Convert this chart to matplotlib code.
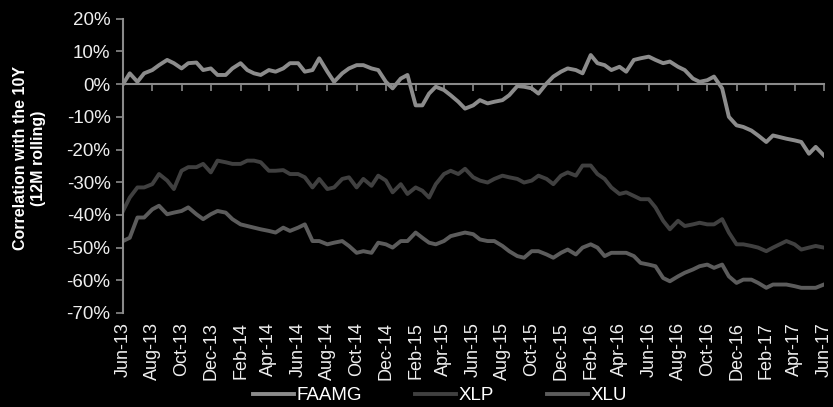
import pandas as pd
import matplotlib
matplotlib.use("Agg")
import matplotlib.pyplot as plt
from matplotlib.ticker import FuncFormatter

# half-monthly observations, Jun-13 .. Jun-17
dates = pd.date_range("2013-06-01", "2017-06-01", freq="SMS")

faamg = [
    0.0, 3.3, 0.7, 3.3, 4.3, 5.8, 7.4, 6.4, 4.8, 6.4, 6.6, 4.3, 4.8, 2.8, 2.8, 4.8,
    6.4, 4.3, 3.3, 2.8, 4.3, 3.8, 4.8, 6.4,
    6.4, 3.8, 4.3, 7.9, 3.8, 0.7, 3.3, 4.8, 5.8, 5.8, 4.8, 4.3, 0.7, -1.3, 1.7, 2.8,
    -6.5, -6.5, -2.9, -0.8, -1.8, -3.4, -5.4, -7.5,
    -6.5, -4.9, -5.9, -5.4, -4.9, -3.4, -0.6, -0.8, -1.3, -2.9, 0.2, 2.3, 3.8, 4.8,
    4.3, 3.3, 8.9, 6.4, 5.8, 4.3, 5.3, 3.8, 7.4, 7.9,
    8.4, 7.4, 6.4, 6.9, 5.3, 4.3, 1.7, 0.7, 1.2, 2.3, -1.3, -10.0, -12.6, -13.1,
    -14.2, -15.7, -17.7, -15.7, -16.2, -16.7, -17.2, -17.7, -21.3, -19.2, -21.8,
]
xlp = [
    -38.8, -34.7, -31.6, -31.6, -30.6, -27.5, -29.5, -32.1, -26.5, -25.4, -25.4, -24.4,
    -27.0, -23.4, -23.9, -24.4, -24.4, -23.4, -23.4, -23.9, -26.5, -26.5, -26.3, -27.5,
    -27.5, -28.5, -31.6, -29.0, -32.1, -31.6, -29.0, -28.5, -31.6, -29.0, -31.1, -28.0,
    -29.5, -33.1, -30.6, -33.6, -31.6, -32.6, -34.7, -30.6, -27.5, -26.5, -27.5, -25.9,
    -28.5, -29.5, -30.1, -29.0, -28.0, -28.5, -29.0, -30.1, -29.5, -28.0, -29.0, -30.6,
    -28.0, -27.0, -28.0, -24.9, -24.9, -27.5, -29.0, -31.6, -33.6, -33.1, -34.2, -35.2,
    -35.2, -37.7, -41.8, -44.4, -41.8, -43.4, -42.9, -42.4, -42.9, -42.9, -41.3, -45.4,
    -49.0, -49.0, -49.5, -50.0, -51.1, -50.0, -49.0, -48.0, -49.0, -50.6, -50.0, -49.5,
    -50.0,
]
xlu = [
    -48.0, -47.0, -40.8, -40.8, -38.3, -37.2, -39.8, -39.3, -38.8, -37.7, -39.8, -41.3,
    -39.8, -38.8, -39.3, -41.3, -42.9, -43.4, -43.9, -44.4, -44.9, -45.4, -43.9, -44.9,
    -43.9, -42.9, -48.0, -48.0, -49.0, -48.5, -48.0, -49.5, -51.6, -51.1, -51.6, -48.5,
    -49.0, -50.0, -48.0, -48.0, -45.4, -47.0, -48.5, -49.0, -48.0, -46.5, -45.9, -45.4,
    -45.9, -47.5, -48.0, -48.0, -49.5, -51.1, -52.6, -53.1, -51.1, -51.1, -52.1, -53.1,
    -51.6, -50.6, -52.1, -50.0, -49.0, -50.0, -52.6, -51.6, -51.6, -51.6, -52.6, -54.7,
    -55.2, -55.7, -59.3, -60.3, -58.8, -57.7, -56.7, -55.7, -55.2, -56.2, -55.2, -58.8,
    -60.8, -59.8, -59.8, -60.8, -62.3, -61.3, -61.3, -61.3, -61.8, -62.3, -62.3, -62.3,
    -61.3,
]

series = {"FAAMG": (faamg, "#8c8c8c"), "XLP": (xlp, "#404040"), "XLU": (xlu, "#5c5c5c")}

plt.rcParams["font.family"] = ["Liberation Sans", "DejaVu Sans"]
fig = plt.figure(figsize=(8.33, 4.07), dpi=100, facecolor="black")
ax = fig.add_axes([0.1477, 0.231, 0.8413, 0.723], facecolor="black")

for name, (vals, col) in series.items():
    ax.plot(dates, [v / 100 for v in vals], color=col, lw=2.8, label=name)

ax.set_ylim(-0.70, 0.20)
ax.set_yticks([i / 10 for i in range(-7, 3)])
ax.yaxis.set_major_formatter(FuncFormatter(lambda v, p: f"{v:.0%}"))
ax.set_xlim(dates[0], dates[-1])
ticks = pd.date_range("2013-06-01", "2017-06-01", freq="2MS")
ax.set_xticks(ticks)
ax.set_xticklabels([])

axis_col = "#8a8a8a"
for s in ["top", "right"]:
    ax.spines[s].set_visible(False)
ax.spines["left"].set_color(axis_col)
ax.spines["left"].set_linewidth(1.5)
ax.spines["bottom"].set_color(axis_col)
ax.spines["bottom"].set_linewidth(1.5)
ax.spines["bottom"].set_position(("data", 0))
ax.tick_params(axis="y", colors=axis_col, length=5, width=1.2, labelcolor="#eeeeee",
               labelsize=13.5, pad=4)
ax.tick_params(axis="x", colors=axis_col, length=5, width=1.2, direction="out")

# date labels sit at the bottom of the plot, not on the zero line
for t in ticks:
    ax.text(t, -0.03, t.strftime("%b-%y"), transform=ax.get_xaxis_transform(),
            rotation=90, ha="center", va="top", color="#eeeeee", fontsize=13)

fig.text(0.036, 0.612, "Correlation with the 10Y\n(12M rolling)", rotation=90,
         ha="center", va="center", color="white", fontsize=11.5, fontweight="bold",
         linespacing=1.25)

leg = fig.legend(loc="lower center", bbox_to_anchor=(0.528, -0.035), ncol=3,
                 frameon=False, fontsize=13.5, handlelength=2.2, columnspacing=2.8,
                 handletextpad=0.15, labelcolor="white")

fig.savefig("out.png", dpi=100, facecolor="black")
